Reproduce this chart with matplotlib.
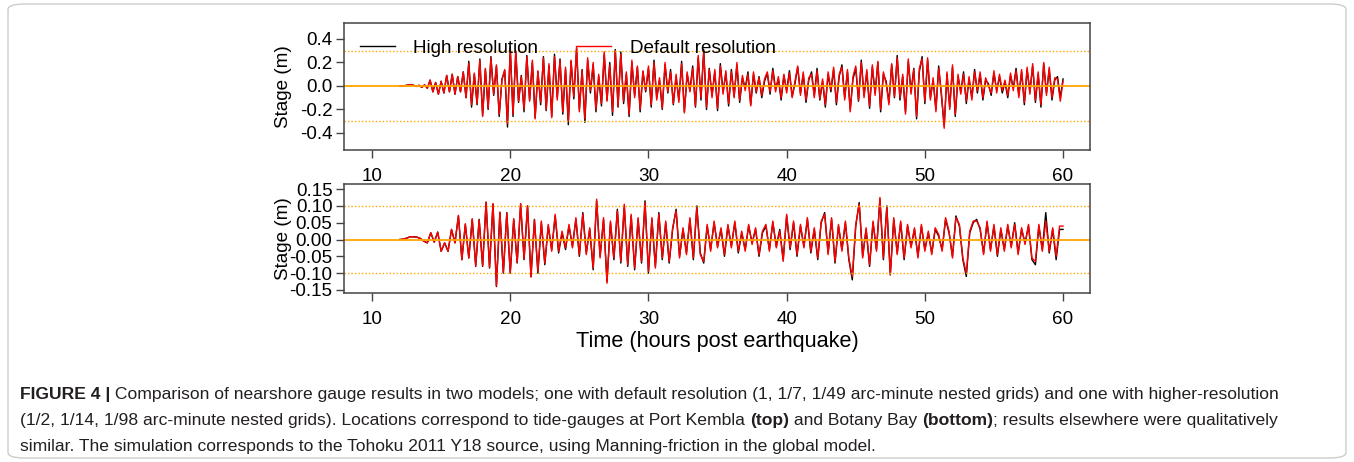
import numpy as np
import matplotlib
matplotlib.use("Agg")
import matplotlib.pyplot as plt
from matplotlib.patches import FancyBboxPatch

plt.rcParams['font.family'] = ['Liberation Sans', 'DejaVu Sans']
plt.rcParams['axes.unicode_minus'] = False

# Port Kembla gauge (top), samples every 0.2 h from 12 h to 60 h
hi_top = [
    0.00, 0.00, 0.003, 0.008, 0.010, 0.006, -0.004, 0.006, -0.012, 0.010,
    -0.02, 0.05, -0.05, 0.03, -0.07, 0.04, -0.06, 0.09, -0.05, 0.10,
    -0.07, 0.08, -0.05, 0.12, -0.10, 0.21, -0.18, 0.10, -0.16, 0.23,
    -0.25, 0.14, -0.20, 0.25, -0.08, 0.17, -0.26, 0.06, 0.13, -0.35,
    0.33, -0.26, 0.29, -0.14, 0.09, -0.22, 0.26, -0.12, 0.20, -0.27,
    0.12, -0.16, 0.25, -0.21, 0.17, -0.26, 0.27, -0.10, 0.23, -0.24,
    0.14, -0.33, 0.21, -0.11, 0.32, -0.20, 0.14, -0.31, 0.22, -0.06,
    0.18, -0.22, 0.08, -0.17, 0.27, -0.12, 0.20, -0.25, 0.31, -0.18,
    0.29, -0.15, 0.10, -0.26, 0.20, -0.08, 0.16, -0.22, 0.12, -0.05,
    0.15, -0.18, 0.22, -0.10, 0.05, -0.20, 0.18, -0.06, 0.14, -0.16,
    0.08, -0.12, 0.21, -0.22, 0.10, -0.04, 0.17, -0.18, 0.24, -0.12,
    0.31, -0.20, 0.15, -0.08, 0.12, -0.21, 0.19, -0.05, 0.11, -0.17,
    0.14, -0.09, 0.18, -0.14, 0.07, -0.02, 0.12, -0.16, 0.10, -0.06,
    0.08, -0.10, 0.04, 0.11, -0.07, 0.15, -0.03, 0.06, -0.12, 0.09,
    -0.04, 0.13, -0.09, 0.02, 0.16, -0.06, 0.10, -0.14, 0.05, 0.12,
    -0.08, 0.15, -0.12, 0.04, -0.18, 0.10, -0.05, 0.14, -0.16, 0.08,
    0.18, -0.10, 0.12, -0.20, 0.06, 0.15, -0.13, 0.22, -0.08, 0.12,
    -0.19, 0.16, -0.06, 0.20, -0.22, 0.10, 0.04, -0.14, 0.18, -0.10,
    0.26, -0.12, 0.08, -0.22, 0.21, -0.05, 0.15, -0.28, 0.12, 0.25,
    -0.15, 0.22, -0.10, 0.05, -0.20, 0.17, -0.08, -0.34, 0.10, -0.18,
    0.16, -0.26, 0.08, -0.05, 0.12, -0.15, 0.06, -0.10, 0.14, -0.06,
    0.10, -0.12, 0.05, 0.02, -0.08, 0.11, -0.04, 0.08, -0.06, 0.03,
    -0.10, 0.09, -0.02, 0.15, -0.08, 0.12, -0.16, 0.14, -0.05, 0.17,
    -0.14, 0.10, -0.18, 0.19, -0.06, 0.14, -0.12, 0.05, 0.08, -0.10,
    0.06,
]
def_top = [
    0.00, 0.00, 0.003, 0.008, 0.010, 0.006, -0.004, 0.006, -0.012, 0.010,
    -0.02, 0.05, -0.05, 0.03, -0.07, 0.04, -0.06, 0.09, -0.05, 0.10,
    -0.07, 0.08, -0.05, 0.12, -0.10, 0.19, -0.16, 0.11, -0.15, 0.22,
    -0.26, 0.15, -0.19, 0.24, -0.07, 0.18, -0.24, 0.05, 0.14, -0.32,
    0.31, -0.24, 0.30, -0.13, 0.08, -0.20, 0.25, -0.13, 0.22, -0.28,
    0.13, -0.14, 0.24, -0.20, 0.19, -0.27, 0.25, -0.12, 0.22, -0.22,
    0.16, -0.30, 0.22, -0.09, 0.33, -0.22, 0.13, -0.28, 0.24, -0.04,
    0.20, -0.20, 0.10, -0.15, 0.29, -0.13, 0.18, -0.22, 0.30, -0.17,
    0.27, -0.13, 0.12, -0.24, 0.22, -0.10, 0.17, -0.20, 0.13, -0.04,
    0.17, -0.16, 0.20, -0.12, 0.07, -0.19, 0.20, -0.05, 0.12, -0.15,
    0.10, -0.14, 0.19, -0.23, 0.12, -0.05, 0.15, -0.17, 0.26, -0.10,
    0.28, -0.18, 0.14, -0.10, 0.14, -0.19, 0.17, -0.07, 0.13, -0.15,
    0.12, -0.10, 0.20, -0.12, 0.09, -0.04, 0.10, -0.17, 0.12, -0.05,
    0.07, -0.08, 0.06, 0.12, -0.05, 0.13, -0.05, 0.08, -0.10, 0.10,
    -0.06, 0.11, -0.10, 0.04, 0.17, -0.08, 0.12, -0.12, 0.07, 0.10,
    -0.10, 0.13, -0.11, 0.06, -0.16, 0.12, -0.03, 0.16, -0.14, 0.10,
    0.16, -0.12, 0.14, -0.22, 0.08, 0.17, -0.12, 0.20, -0.10, 0.14,
    -0.17, 0.18, -0.08, 0.21, -0.20, 0.12, 0.02, -0.16, 0.19, -0.09,
    0.24, -0.10, 0.10, -0.24, 0.23, -0.07, 0.14, -0.26, 0.15, 0.23,
    -0.13, 0.24, -0.12, 0.07, -0.22, 0.15, -0.06, -0.36, 0.12, -0.20,
    0.18, -0.24, 0.10, -0.07, 0.10, -0.13, 0.08, -0.12, 0.12, -0.04,
    0.12, -0.10, 0.07, 0.00, -0.06, 0.13, -0.06, 0.10, -0.04, 0.05,
    -0.08, 0.11, -0.04, 0.13, -0.10, 0.14, -0.14, 0.16, -0.07, 0.19,
    -0.12, 0.12, -0.16, 0.20, -0.08, 0.16, -0.10, 0.07, 0.06, -0.13,
    0.04,
]

# Botany Bay gauge (bottom), samples every 0.25 h from 12 h to 60 h
hi_bot = [
    0.000, 0.001, 0.004, 0.008, 0.008, 0.007, 0.003, -0.005,
    -0.010, 0.020, -0.008, 0.022, -0.035, -0.010, -0.035, 0.030,
    -0.010, 0.070, -0.060, 0.045, -0.055, 0.060, -0.080, 0.060,
    -0.080, 0.110, -0.085, 0.105, -0.140, 0.080, -0.100, 0.080,
    -0.100, 0.060, -0.070, 0.105, -0.060, 0.100, -0.110, 0.060,
    -0.100, 0.050, -0.075, 0.040, -0.030, 0.070, -0.040, 0.020,
    -0.030, 0.040, -0.020, 0.060, -0.050, 0.080, -0.040, 0.030,
    -0.090, 0.115, -0.050, 0.060, -0.125, 0.050, -0.060, 0.090,
    -0.070, 0.100, -0.080, 0.070, -0.090, 0.060, -0.070, 0.115,
    -0.100, 0.060, -0.080, 0.080, -0.060, 0.050, -0.070, 0.030,
    0.090, -0.050, 0.030, -0.040, 0.060, -0.060, 0.100, -0.040,
    -0.070, 0.040, -0.030, 0.050, -0.020, 0.030, -0.050, 0.040,
    -0.020, 0.050, -0.040, 0.020, -0.030, 0.040, -0.010, 0.030,
    -0.050, 0.020, 0.040, -0.030, 0.050, -0.020, 0.030, -0.060,
    0.070, -0.030, 0.050, -0.050, 0.040, -0.020, 0.060, -0.040,
    0.030, -0.060, 0.050, 0.080, -0.040, 0.060, -0.070, 0.040,
    -0.030, 0.050, -0.060, -0.120, 0.040, 0.110, -0.050, 0.030,
    -0.080, 0.050, -0.030, 0.120, -0.060, 0.100, -0.105, 0.060,
    -0.040, 0.050, -0.060, 0.040, -0.020, 0.030, -0.050, 0.040,
    -0.030, 0.020, -0.040, 0.030, 0.010, -0.030, 0.060, 0.020,
    -0.050, 0.070, 0.040, -0.060, -0.110, 0.020, 0.050, 0.060,
    0.030, -0.040, 0.050, -0.030, 0.040, -0.050, 0.030, -0.030,
    0.040, -0.020, 0.050, -0.040, 0.030, -0.010, 0.040, -0.060,
    -0.075, 0.040, -0.030, 0.080, -0.040, 0.030, -0.060, 0.030,
    0.030,
]
def_bot = [
    0.000, 0.001, 0.004, 0.008, 0.008, 0.007, 0.003, -0.005,
    -0.010, 0.020, -0.008, 0.022, -0.035, -0.010, -0.035, 0.030,
    -0.010, 0.072, -0.060, 0.047, -0.055, 0.062, -0.078, 0.058,
    -0.078, 0.112, -0.083, 0.107, -0.138, 0.082, -0.098, 0.078,
    -0.098, 0.062, -0.068, 0.107, -0.058, 0.100, -0.112, 0.058,
    -0.095, 0.055, -0.070, 0.045, -0.035, 0.075, -0.035, 0.025,
    -0.025, 0.045, -0.025, 0.065, -0.045, 0.075, -0.045, 0.035,
    -0.085, 0.120, -0.055, 0.065, -0.130, 0.055, -0.055, 0.085,
    -0.065, 0.105, -0.075, 0.075, -0.085, 0.065, -0.065, 0.110,
    -0.095, 0.065, -0.085, 0.075, -0.055, 0.055, -0.065, 0.035,
    0.085, -0.055, 0.035, -0.045, 0.065, -0.055, 0.095, -0.045,
    -0.065, 0.045, -0.035, 0.055, -0.025, 0.035, -0.045, 0.045,
    -0.025, 0.055, -0.035, 0.025, -0.035, 0.045, -0.015, 0.035,
    -0.045, 0.025, 0.045, -0.035, 0.055, -0.025, 0.025, -0.065,
    0.075, -0.025, 0.055, -0.045, 0.045, -0.025, 0.065, -0.035,
    0.035, -0.055, 0.055, 0.075, -0.045, 0.065, -0.065, 0.045,
    -0.035, 0.055, -0.055, -0.110, 0.045, 0.105, -0.055, 0.035,
    -0.075, 0.055, -0.035, 0.125, -0.055, 0.095, -0.105, 0.065,
    -0.045, 0.055, -0.055, 0.045, -0.025, 0.035, -0.055, 0.045,
    -0.035, 0.025, -0.045, 0.035, 0.015, -0.035, 0.065, 0.025,
    -0.055, 0.065, 0.045, -0.055, -0.100, 0.025, 0.055, 0.055,
    0.035, -0.045, 0.055, -0.035, 0.045, -0.045, 0.035, -0.035,
    0.045, -0.025, 0.045, -0.045, 0.035, -0.015, 0.045, -0.055,
    -0.065, 0.045, -0.035, 0.055, -0.035, 0.035, -0.050, 0.040,
    0.040,
]

t_top = np.linspace(12, 60, len(hi_top))
t_bot = np.linspace(12, 60, len(hi_bot))

top_yticks = [-0.4, -0.2, 0.0, 0.2, 0.4]
bot_yticks = [-0.15, -0.10, -0.05, 0.00, 0.05, 0.10, 0.15]
xticks = [10, 20, 30, 40, 50, 60]
top_thresh = 0.3
bot_thresh = 0.1

W, H = 1354, 462
fig = plt.figure(figsize=(W / 100, H / 100), dpi=100)

ax1 = fig.add_axes([344 / W, 1 - 150 / H, 746 / W, 127 / H])
ax2 = fig.add_axes([344 / W, 1 - 293 / H, 746 / W, 109 / H])

FS = 13.6
for ax, t, hi, de, thr, ticks, fmt, ylim in [
    (ax1, t_top, hi_top, def_top, top_thresh, top_yticks, '%.1f', (-0.545, 0.536)),
    (ax2, t_bot, hi_bot, def_bot, bot_thresh, bot_yticks, '%.2f', (-0.159, 0.165)),
]:
    ax.plot(t, hi, color='black', lw=1.0, label='High resolution')
    ax.plot(t, de, color='red', lw=1.0, label='Default resolution')
    ax.axhline(0, color='orange', lw=1.3)
    ax.axhline(thr, color='orange', lw=1.0, ls=(0, (1, 1.5)))
    ax.axhline(-thr, color='orange', lw=1.0, ls=(0, (1, 1.5)))
    ax.set_xlim(7.97, 61.95)
    ax.set_ylim(*ylim)
    ax.set_xticks(xticks)
    ax.set_yticks(ticks)
    ax.set_yticklabels([fmt % v for v in ticks])
    ax.set_ylabel('Stage (m)', fontsize=FS)
    ax.yaxis.set_label_coords(-0.070, 0.5)
    ax.tick_params(axis='both', labelsize=FS, length=5.8, width=1.0,
                   color='#444444', direction='out')
    ax.tick_params(axis='x', pad=7.5)
    ax.tick_params(axis='y', pad=2.5)
    for s in ax.spines.values():
        s.set_color('#444444')
        s.set_linewidth(1.1)

ax1.legend(loc='upper left', bbox_to_anchor=(0.021, 0.87), ncol=2, frameon=False,
           fontsize=FS, handlelength=1.85, handletextpad=1.0, columnspacing=2.0,
           borderpad=0, borderaxespad=0)

fig.text(717 / W, 1 - 341 / H, 'Time (hours post earthquake)', fontsize=15.6,
         ha='center', va='center')

# outer frame
fig.patches.append(FancyBboxPatch((8 / W, 4 / H), 1338 / W, 454 / H,
                                  boxstyle='round,pad=0,rounding_size=0.012',
                                  transform=fig.transFigure, fill=False,
                                  edgecolor='#cccccc', lw=1.0))

# caption with bold pieces
renderer = fig.canvas.get_renderer()
CAP_FONT = ['Liberation Sans Narrow', 'Liberation Sans', 'DejaVu Sans']


def text_width(s, size, weight):
    a = fig.text(0, 0, '|' + s + '|', fontsize=size, fontweight=weight, family=CAP_FONT)
    b = fig.text(0, 0, '||', fontsize=size, fontweight=weight, family=CAP_FONT)
    w = a.get_window_extent(renderer).width - b.get_window_extent(renderer).width
    a.remove()
    b.remove()
    return w


cap1 = [('FIGURE 4 |', 'bold'),
        (' Comparison of nearshore gauge results in two models; one with default resolution '
         '(1, 1/7, 1/49 arc-minute nested grids) and one with higher-resolution', 'normal')]
cap2 = [('(1/2, 1/14, 1/98 arc-minute nested grids). Locations correspond to tide-gauges at Port Kembla ', 'normal'),
        ('(top)', 'bold'), (' and Botany Bay ', 'normal'), ('(bottom)', 'bold'),
        ('; results elsewhere were qualitatively', 'normal')]
cap3 = [('similar. The simulation corresponds to the Tohoku 2011 Y18 source, using '
         'Manning-friction in the global model.', 'normal')]

w10 = sum(text_width(s, 10, wt) for s, wt in cap1)
cap_fs = 10 * 1263 / w10

for line, ypx in [(cap1, 395), (cap2, 421), (cap3, 447)]:
    x = 20
    for s, wt in line:
        fig.text(x / W, 1 - ypx / H, s, fontsize=cap_fs, fontweight=wt, family=CAP_FONT,
                 ha='left', va='center', color='#231f20')
        x += text_width(s, cap_fs, wt)

fig.savefig('out.png', dpi=100)
